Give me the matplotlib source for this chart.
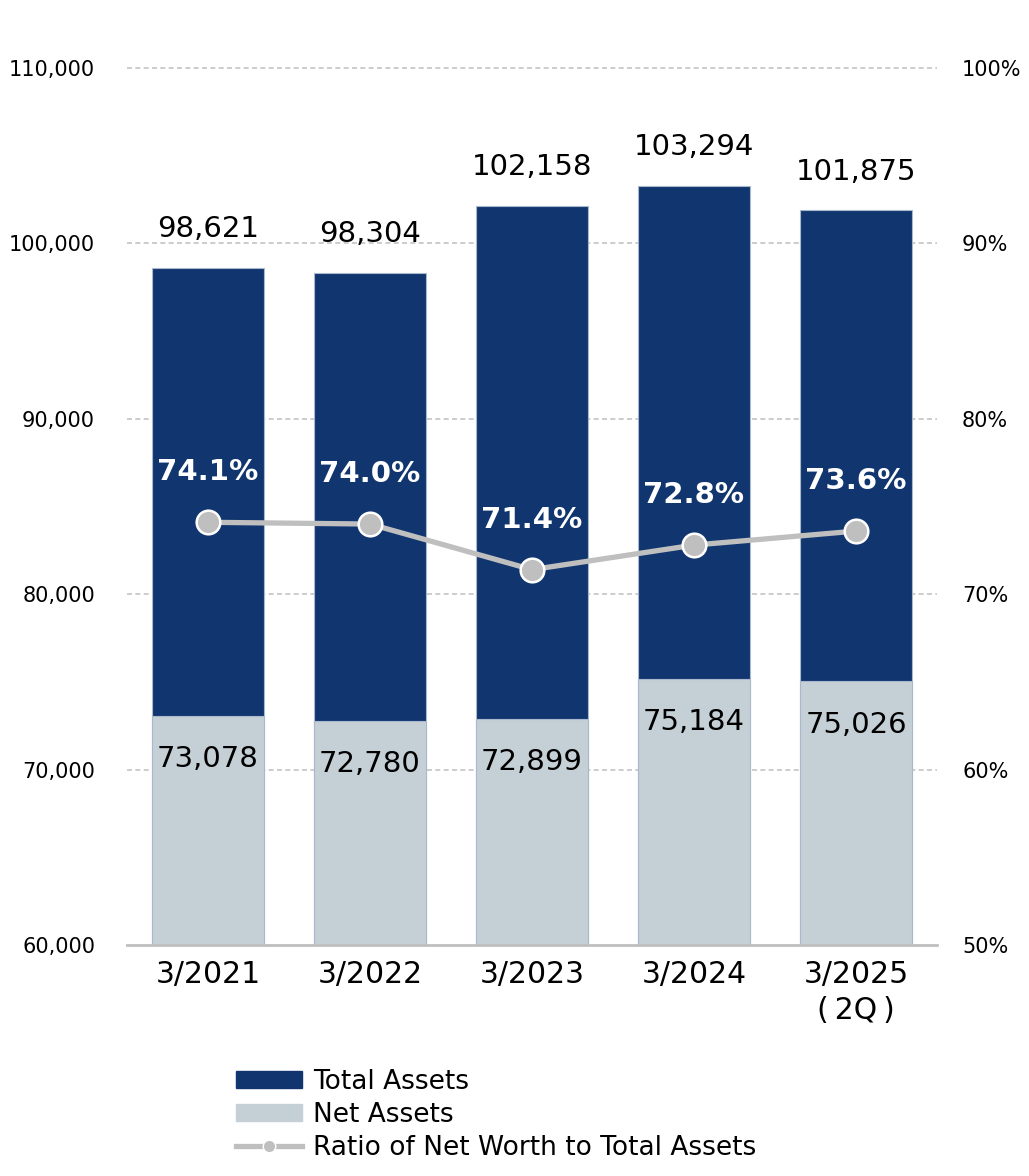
import matplotlib
matplotlib.use("Agg")
import matplotlib.pyplot as plt
from matplotlib.patches import Patch
from matplotlib.lines import Line2D

plt.rcParams['font.family'] = ['DejaVu Sans', 'Noto Sans CJK JP']

categories = ["3/2021", "3/2022", "3/2023", "3/2024", "3/2025\n(\u20092Q\u2009)"]
total_assets = [98621, 98304, 102158, 103294, 101875]
net_assets = [73078, 72780, 72899, 75184, 75026]
ratio = [74.1, 74.0, 71.4, 72.8, 73.6]
left_ticks = [60000, 70000, 80000, 90000, 100000, 110000]
right_ticks = [50, 60, 70, 80, 90, 100]

NAVY = "#11366F"
LIGHT = "#C5CFD6"
EDGE = "#A9B8CC"
LINE = "#BFBFBF"

fig = plt.figure(figsize=(10.29, 11.76), dpi=100)
ax = fig.add_axes([0.1234, 0.1964, 0.7872, 0.7458])
x = list(range(len(categories)))
base = 60000
w = 0.69

ax.bar(x, [t - base for t in total_assets], bottom=base, width=w, color=NAVY,
       edgecolor=EDGE, linewidth=0.8, zorder=2)
ax.bar(x, [n - base for n in net_assets], bottom=base, width=w, color=LIGHT,
       edgecolor=EDGE, linewidth=0.8, zorder=3)

for xi, t in zip(x, total_assets):
    ax.annotate(f"{t:,}", (xi, t), xytext=(0, 28), textcoords="offset points",
                ha="center", va="center", fontsize=21, color="black", zorder=5)
for xi, n in zip(x, net_assets):
    ax.annotate(f"{n:,}", (xi, n), xytext=(0, -31), textcoords="offset points",
                ha="center", va="center", fontsize=21, color="black", zorder=5)

ax.set_xlim(-0.5, 4.5)
ax.set_ylim(60000, 110000)
ax.set_yticks(left_ticks)
ax.set_yticklabels([f"{v:,}" for v in left_ticks])
ax.set_xticks(x)
ax.set_xticklabels(categories, fontsize=21.5, linespacing=1.3)
ax.tick_params(axis="y", length=0, pad=23, labelsize=15)
ax.tick_params(axis="x", length=0, pad=11)
for v in left_ticks[1:]:
    ax.axhline(v, color="#C4C4C4", lw=1.2, ls=(0, (3, 2)), zorder=1, clip_on=False)
for s in ["top", "left", "right"]:
    ax.spines[s].set_visible(False)
ax.spines["bottom"].set_color("#BFBFBF")
ax.spines["bottom"].set_linewidth(2)
ax.spines["bottom"].set_zorder(4)

ax2 = ax.twinx()
ax2.set_ylim(50, 100)
ax2.set_yticks(right_ticks)
ax2.set_yticklabels([f"{v}%" for v in right_ticks])
ax2.tick_params(axis="y", length=0, pad=18, labelsize=15)
for s in ["top", "left", "right", "bottom"]:
    ax2.spines[s].set_visible(False)
ax2.plot(x, ratio, color=LINE, lw=3.8, marker="o", markersize=17,
         markerfacecolor=LINE, markeredgecolor="white", markeredgewidth=1.8, zorder=6)
for xi, r in zip(x, ratio):
    ax2.annotate(f"{r:.1f}%", (xi, r), xytext=(0, 36), textcoords="offset points",
                 ha="center", va="center", fontsize=21, fontweight="bold",
                 color="white", zorder=7)

handles = [
    Patch(facecolor=NAVY, edgecolor=NAVY),
    Patch(facecolor=LIGHT, edgecolor=LIGHT),
    Line2D([0], [0], color=LINE, lw=3.8, marker="o", markersize=9,
           markerfacecolor=LINE, markeredgecolor="white", markeredgewidth=1),
]
labels = ["Total Assets", "Net Assets", "Ratio of Net Worth to Total Assets"]
fig.legend(handles, labels, loc="upper left", bbox_to_anchor=(0.229, 0.091),
           frameon=False, fontsize=19, handlelength=2.5, handleheight=0.6,
           handletextpad=0.45, labelspacing=0.26, borderpad=0, borderaxespad=0)

fig.savefig("out.png", dpi=100)
